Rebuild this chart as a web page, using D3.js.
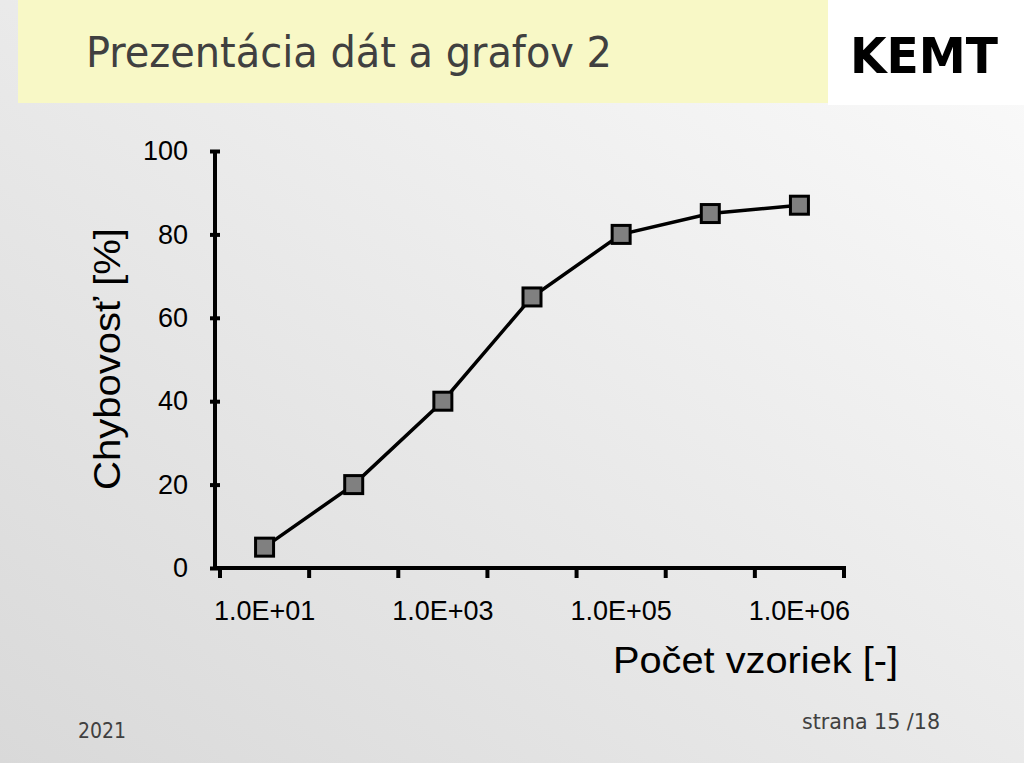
<!DOCTYPE html>
<html><head><meta charset="utf-8">
<script src="https://cdn.jsdelivr.net/npm/d3@7"></script>
<style>html,body{margin:0;padding:0;overflow:hidden;background:#fff}</style>
</head><body>
<svg id="c" width="1024" height="767"></svg>
<script>
const categories = ["1.0E+01","1.0E+02","1.0E+03","1.0E+04","1.0E+05","5.0E+05","1.0E+06"];
const shownLabels = ["1.0E+01","1.0E+03","1.0E+05","1.0E+06"];
const values = [5, 20, 40, 65, 80, 85, 87];
const yTicks = [0, 20, 40, 60, 80, 100];

const svg = d3.select("#c");
const defs = svg.append("defs");
const g = defs.append("linearGradient").attr("id","bg").attr("x1","1").attr("y1","0").attr("x2","0").attr("y2","1");
g.append("stop").attr("offset","0").attr("stop-color","#fbfbfb");
g.append("stop").attr("offset","1").attr("stop-color","#d9d9d9");
svg.append("rect").attr("width",1024).attr("height",763).attr("fill","url(#bg)");
svg.append("rect").attr("x",828).attr("y",0).attr("width",196).attr("height",105).attr("fill","#ffffff");
svg.append("rect").attr("x",18).attr("y",0).attr("width",810).attr("height",103).attr("fill","#f8f8c6");

svg.append("text").attr("x",86).attr("y",67).attr("font-family","DejaVu Sans Condensed, DejaVu Sans").attr("font-size",43)
  .attr("textLength",526).attr("lengthAdjust","spacingAndGlyphs").attr("fill","#404040").text("Prezentácia dát a grafov 2");
svg.append("text").attr("x",850).attr("y",73).attr("font-family","DejaVu Sans").attr("font-weight","bold").attr("font-size",50).attr("textLength",148).attr("lengthAdjust","spacingAndGlyphs").attr("fill","#000").text("KEMT");

svg.append("text").attr("x",78).attr("y",738).attr("font-family","DejaVu Sans Condensed, DejaVu Sans").attr("font-size",21).attr("fill","#404040").text("2021");
svg.append("text").attr("x",802).attr("y",729).attr("font-family","DejaVu Sans Condensed, DejaVu Sans").attr("font-size",22)
  .attr("textLength",138).attr("lengthAdjust","spacingAndGlyphs").attr("fill","#404040").text("strana 15 /18");

const x = d3.scaleBand().domain(categories).range([220, 844]).paddingInner(0).paddingOuter(0);
const y = d3.scaleLinear().domain([0, 100]).range([568, 151]);
const axisX = 215;

// Y axis
const ya = svg.append("g").attr("transform",`translate(${axisX},0)`)
  .call(d3.axisLeft(y).tickValues(yTicks).tickSize(5).tickPadding(22).tickFormat(d3.format("d")));
ya.select(".domain").remove();
ya.selectAll(".tick line").attr("x2",5).attr("x1",-5).attr("stroke","#000").attr("stroke-width",4);
ya.selectAll(".tick text").attr("font-family","Liberation Sans, Arial").attr("font-size",27).attr("fill","#000");
svg.append("line").attr("x1",axisX).attr("x2",axisX).attr("y1",y(100)).attr("y2",y(0)).attr("stroke","#000").attr("stroke-width",4);

// X axis
const xa = svg.append("g").attr("transform",`translate(0,${y(0)})`)
  .call(d3.axisBottom(x).tickValues(shownLabels).tickSize(0).tickPadding(33));
xa.select(".domain").remove();
xa.selectAll(".tick line").remove();
xa.selectAll(".tick text").attr("font-family","Liberation Sans, Arial").attr("font-size",27).attr("fill","#000");
const bounds = categories.map(c => x(c)).concat([x(categories[categories.length-1]) + x.bandwidth()]);
svg.append("g").selectAll("line").data(bounds).join("line")
  .attr("x1",d=>d).attr("x2",d=>d).attr("y1",y(0)).attr("y2",y(0)+10).attr("stroke","#000").attr("stroke-width",4);
svg.append("line").attr("x1",axisX-2).attr("x2",846).attr("y1",y(0)).attr("y2",y(0)).attr("stroke","#000").attr("stroke-width",4);

// Axis titles
svg.append("text").attr("x",613).attr("y",673).attr("font-family","Liberation Sans, Arial").attr("font-size",37)
  .attr("textLength",285).attr("lengthAdjust","spacingAndGlyphs").attr("fill","#000").text("Počet vzoriek [-]");
svg.append("text").attr("transform","translate(120,490) rotate(-90)").attr("font-family","Liberation Sans, Arial").attr("font-size",37)
  .attr("textLength",262).attr("lengthAdjust","spacingAndGlyphs").attr("fill","#000").text("Chybovosť [%]");

// Line and markers
const cx = (d,i) => x(categories[i]) + x.bandwidth()/2;
const line = d3.line().x((d,i)=>cx(d,i)).y(d=>y(d));
svg.append("path").datum(values).attr("d",line).attr("fill","none").attr("stroke","#000").attr("stroke-width",3.5);
svg.append("g").selectAll("rect").data(values).join("rect")
  .attr("x",(d,i)=>cx(d,i)-9).attr("y",d=>y(d)-9).attr("width",18).attr("height",18)
  .attr("fill","#808080").attr("stroke","#000").attr("stroke-width",3);
</script>
</body></html>
